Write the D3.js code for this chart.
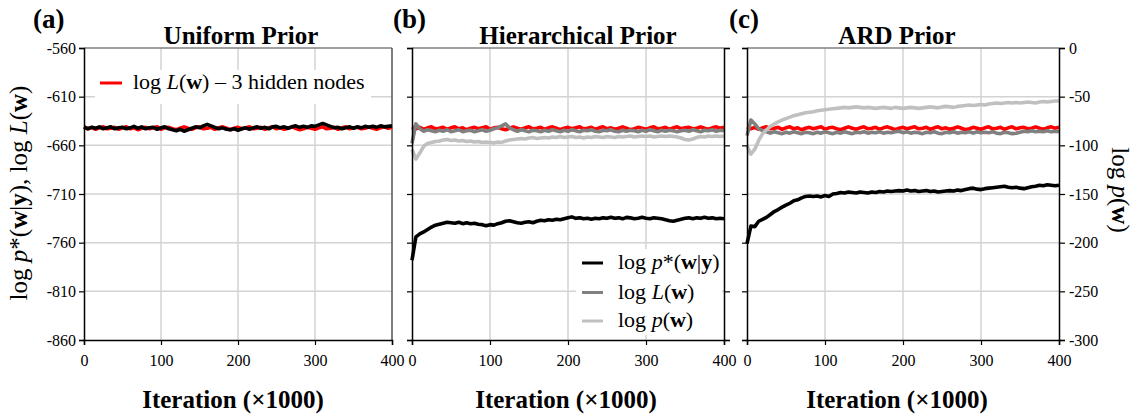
<!DOCTYPE html>
<html><head><meta charset="utf-8">
<script src="https://cdn.jsdelivr.net/npm/d3@7"></script>
<style>
html,body{margin:0;padding:0;background:#fff;}
text{font-family:"Liberation Serif","Times New Roman",serif;}
</style></head>
<body>
<svg id="chart" width="1136" height="414"></svg>
<script>
// ---------------- DATA ----------------
const iterations = [0,5,10,15,20,25,30,35,40,45,50,55,60,65,70,75,80,85,90,95,100,105,110,115,120,125,130,135,140,145,150,155,160,165,170,175,180,185,190,195,200,205,210,215,220,225,230,235,240,245,250,255,260,265,270,275,280,285,290,295,300,305,310,315,320,325,330,335,340,345,350,355,360,365,370,375,380,385,390,395,400];
const xTicks = [0,100,200,300,400];
const leftTicks = [-560,-610,-660,-710,-760,-810,-860];
const rightTicks = [0,-50,-100,-150,-200,-250,-300];
const panelTitles = ["Uniform Prior","Hierarchical Prior","ARD Prior"];
const panelLetters = ["(a)","(b)","(c)"];

// log L(w) - 3 hidden nodes (reference, all panels)
const logL3 = [-641,-643,-641.5,-643.5,-642,-641,-643,-642.5,-641.5,-643.5,-642,-641,-643,-642,-644,-642.5,-641.5,-643,-642,-641,-643.5,-642,-641.5,-643,-644,-642.5,-641,-642.5,-643.5,-642,-641,-643,-642.5,-641.5,-643.5,-642,-641,-642.5,-644,-642.5,-641.5,-643,-642,-641,-643,-642.5,-641.5,-643.5,-642,-641,-643,-642,-643.5,-642.5,-641,-642.5,-644,-643,-641.5,-642.5,-643.5,-642,-641,-643,-642.5,-641.5,-643.5,-642,-641,-643,-642,-641.5,-643,-642.5,-641,-642.5,-643.5,-642,-641,-642.5,-641.5];
// (a) Uniform prior: log p*(w|y)
const uniformPost = [-641,-643,-641.5,-642.5,-641,-643,-642,-641,-643,-642,-641.5,-643,-642,-640.5,-642.5,-641,-643,-642,-641.5,-643.5,-642,-641,-643,-644,-645,-643.5,-645.5,-644,-642.5,-641,-642,-640,-638.5,-640,-641.5,-643,-642,-643.5,-644,-643,-644.5,-643,-642,-643.5,-642,-641,-642.5,-641.5,-643,-641,-640.5,-642,-641,-642.5,-641,-640,-641.5,-640.5,-641.5,-640,-640.5,-639,-637.5,-639,-640.5,-642,-641.5,-643,-642,-641,-642.5,-641,-642,-640.5,-641.5,-640.5,-641.5,-640,-641,-640.5,-640];
// (b) Hierarchical prior
const hierPost = [-778,-754,-751,-749,-746.5,-744,-742,-741,-740,-739,-739.5,-740,-739,-740.5,-739.5,-740.5,-740,-741,-741.5,-742.5,-741.5,-742,-740.5,-739.5,-738,-737.5,-738.5,-739.5,-740,-739,-738.5,-739.5,-738,-737,-737.5,-736.5,-737,-736,-736.5,-735.5,-734.5,-733.5,-735,-734.5,-735.5,-735,-736,-735,-735.5,-734.5,-735,-734,-735,-734.5,-735.5,-734,-734.5,-735.5,-735,-734,-735,-735.5,-734.5,-735,-735.5,-736.5,-737.5,-738,-737,-736,-735,-734.5,-735.5,-734.5,-735,-734,-735,-734.5,-735.5,-735,-735.5];
const hierLik = [-658,-638,-643,-645.5,-644,-645,-646,-644.5,-645.5,-644,-646,-645,-644,-646,-645,-644.5,-646,-645,-644,-645.5,-644.5,-643,-642,-640,-638,-642,-644,-645.5,-644,-645,-646,-644.5,-645,-646,-644.5,-645.5,-644,-645,-646,-644.5,-645.5,-644,-645,-646,-644.5,-645,-644,-645.5,-646,-644.5,-645,-644,-645.5,-646,-644.5,-645.5,-644.5,-645,-646,-644.5,-645.5,-644,-645,-646,-644.5,-645.5,-644.5,-645,-646,-645,-644.5,-645.5,-644,-645,-646,-644.5,-645,-644,-645.5,-644.5,-645];
const hierPrior = [-104,-114,-108,-101,-98,-97,-96,-95.5,-94.5,-94,-95,-94.5,-95.5,-95,-96,-95.5,-96.5,-96,-97,-96.5,-97,-97.5,-96.5,-97,-95.5,-94.5,-94,-93.5,-93,-93.5,-92.5,-92,-93,-92.5,-92,-92.5,-91.5,-92,-91,-92,-91.5,-91,-92,-91.5,-92.5,-91.5,-92,-91,-91.5,-92,-91,-91.5,-92,-91,-91.5,-91,-90.5,-91.5,-91,-90.5,-91,-90.5,-91.5,-91,-90.5,-91,-90.5,-91,-91.5,-92.5,-94,-94.5,-93.5,-92,-91,-91.5,-90.5,-91,-90.5,-91,-90.5];
// (c) ARD prior
const ardPost = [-761,-743,-743.5,-738,-736,-734,-731,-728,-726,-723.5,-721.5,-719.5,-717,-716,-714,-712.5,-712,-712.5,-712,-713,-711.5,-712.5,-710,-709.5,-708.5,-709,-708,-708.5,-709,-708,-708.5,-709,-708,-708.5,-707.5,-708,-707,-707.5,-707,-706.5,-707,-706,-707,-706.5,-707.5,-707,-706.5,-707.5,-707,-708,-707.5,-707,-706.5,-707,-706,-706.5,-705.5,-704.5,-704,-705,-705.5,-704.5,-704,-703.5,-703,-702.5,-702,-703,-703.5,-703,-704,-704.5,-703.5,-702.5,-702,-701,-701.5,-700.5,-701,-701.5,-701];
const ardLik = [-650,-634,-638,-643,-645,-646,-647.5,-646,-647,-648,-646.5,-647.5,-646,-647,-648,-646.5,-647,-648,-646.5,-647.5,-646,-647,-648,-646.5,-647.5,-646,-647,-648,-646.5,-647,-646,-647.5,-646.5,-647,-646,-647.5,-646.5,-647,-646,-645.5,-647,-646,-647.5,-646.5,-647,-648,-646.5,-647,-646,-647.5,-648,-646.5,-647,-646,-647.5,-646.5,-647,-646,-647.5,-646,-647,-646.5,-647,-646,-647.5,-648,-646.5,-647,-648,-647.5,-646.5,-645.5,-646,-645,-646,-645.5,-646,-645,-646,-645.5,-646];
const ardPrior = [-101,-109,-104,-95,-88,-84,-80.5,-78,-76,-74,-72.5,-71,-69.5,-68.5,-67.5,-66.5,-66,-65.5,-64.5,-64,-63.5,-63,-62.5,-62,-61.5,-61,-61.5,-61,-60.5,-61,-61.5,-61,-61.5,-62,-61.5,-61,-61.5,-62,-61,-61.5,-62,-61.5,-61,-61.5,-62,-61.5,-61,-60.5,-61,-61.5,-60.5,-60,-60.5,-61,-60,-59.5,-59,-58.5,-59,-58.5,-58,-58.5,-57.5,-57,-56.5,-57,-56.5,-56,-56.5,-56,-56.5,-56,-55.5,-56,-56.5,-55.5,-55,-55.5,-55,-54.5,-54.5];

// ---------------- LAYOUT ----------------
const svg = d3.select("#chart");
const plotTop = 48, plotBottom = 340;
const panels = [
  {x0:84,  x1:392, titleX:241, xlabX:233, letterX:33},
  {x0:412, x1:724, titleX:578, xlabX:566, letterX:393},
  {x0:747, x1:1059, titleX:897, xlabX:897, letterX:729}
];
const COL = {red:"#ff0000", black:"#000000", gray:"#808080", light:"#c0c0c0", grid:"#d3d3d3"};
const yL = d3.scaleLinear().domain([-860,-560]).range([plotBottom, plotTop]);
const yR = d3.scaleLinear().domain([-300,0]).range([plotBottom, plotTop]);

const seriesByPanel = [
  [{v:logL3, c:COL.red, s:yL}, {v:uniformPost, c:COL.black, s:yL}],
  [{v:logL3, c:COL.red, s:yL}, {v:hierPost, c:COL.black, s:yL}, {v:hierLik, c:COL.gray, s:yL}, {v:hierPrior, c:COL.light, s:yR}],
  [{v:logL3, c:COL.red, s:yL}, {v:ardPost, c:COL.black, s:yL}, {v:ardLik, c:COL.gray, s:yL}, {v:ardPrior, c:COL.light, s:yR}]
];

panels.forEach((p, i) => {
  const x = d3.scaleLinear().domain([0,400]).range([p.x0, p.x1]);
  const g = svg.append("g");
  g.selectAll(".gv").data(xTicks.slice(1,-1)).join("line")
    .attr("x1", d=>x(d)).attr("x2", d=>x(d)).attr("y1", plotTop).attr("y2", plotBottom)
    .attr("stroke", COL.grid).attr("stroke-width", 1.5);
  g.selectAll(".gh").data(leftTicks.slice(1,-1)).join("line")
    .attr("x1", p.x0).attr("x2", p.x1).attr("y1", d=>yL(d)).attr("y2", d=>yL(d))
    .attr("stroke", COL.grid).attr("stroke-width", 1.5);
  g.append("line").attr("x1", p.x0).attr("x2", p.x1).attr("y1", plotTop).attr("y2", plotTop)
    .attr("stroke", COL.gray).attr("stroke-width", 1.5);
  if (i === 0) {
    g.append("line").attr("x1", p.x1).attr("x2", p.x1).attr("y1", plotTop).attr("y2", plotBottom)
      .attr("stroke", "#555").attr("stroke-width", 1.5);
  }
  if (i === 0) {
    g.append("rect").attr("x", 95).attr("y", 70).attr("width", 276).attr("height", 34).attr("fill", "#fff");
  }
  if (i === 1) {
    g.append("rect").attr("x", 576).attr("y", 249).attr("width", 146).attr("height", 86).attr("fill", "#fff");
  }
  seriesByPanel[i].forEach(s => {
    const line = d3.line().x((d,k)=>x(iterations[k])).y(d=>s.s(d));
    g.append("path").datum(s.v).attr("d", line).attr("fill","none")
      .attr("stroke", s.c).attr("stroke-width", 3.6).attr("stroke-linejoin","round");
  });
  const fmt = d => String(d);
  const xa = g.append("g").attr("transform", `translate(0,${plotBottom})`)
    .call(d3.axisBottom(x).tickValues(xTicks).tickSize(5).tickPadding(10).tickFormat(fmt));
  const la = g.append("g").attr("transform", `translate(${p.x0},0)`)
    .call(d3.axisLeft(yL).tickValues(leftTicks).tickSize(5).tickPadding(3).tickFormat(i===0?fmt:()=>""));
  [xa, la].forEach(a => {
    a.select(".domain").attr("stroke","#000").attr("stroke-width",1.5);
    a.selectAll(".tick line").attr("stroke","#000").attr("stroke-width",1.2);
    a.selectAll("text").attr("font-family","Liberation Serif").attr("font-size",16).attr("fill","#000");
  });
  if (i > 0) {
    const ra = g.append("g").attr("transform", `translate(${p.x1},0)`)
      .call(d3.axisRight(yR).tickValues(rightTicks).tickSize(6).tickPadding(4).tickFormat(i===2?fmt:()=>""));
    ra.select(".domain").attr("stroke","#000").attr("stroke-width",1.5);
    ra.selectAll(".tick line").attr("stroke","#000").attr("stroke-width",1.2);
    ra.selectAll("text").attr("font-family","Liberation Serif").attr("font-size",16).attr("fill","#000");
  }
  svg.append("text").attr("x", p.titleX).attr("y", 44).attr("text-anchor","middle")
    .attr("font-size", 25).attr("font-weight","bold").text(panelTitles[i]);
  svg.append("text").attr("x", p.letterX).attr("y", 28)
    .attr("font-size", 27).attr("font-weight","bold").text(panelLetters[i]);
  svg.append("text").attr("x", p.xlabX).attr("y", 408).attr("text-anchor","middle")
    .attr("font-size", 25).attr("font-weight","bold").text("Iteration (\u00d71000)");
});

function rich(sel, parts) {
  parts.forEach(pt => {
    const t = sel.append("tspan").text(pt[0]);
    if (pt[1] === "i") t.attr("font-style","italic");
    if (pt[1] === "b") t.attr("font-weight","bold");
  });
}

const lt = svg.append("text").attr("transform","translate(27,193) rotate(-90)")
  .attr("text-anchor","middle").attr("font-size", 25);
rich(lt, [["log "],["p","i"],["*("],["w","b"],["|"],["y","b"],["), log "],["L","i"],["("],["w","b"],[")"]]);
const rt = svg.append("text").attr("transform","translate(1112,190) rotate(90)")
  .attr("text-anchor","middle").attr("font-size", 25);
rich(rt, [["log "],["p","i"],["("],["w","b"],[")"]]);

svg.append("line").attr("x1",100).attr("x2",122).attr("y1",83).attr("y2",83)
  .attr("stroke",COL.red).attr("stroke-width",3);
const la1 = svg.append("text").attr("x",133).attr("y",89).attr("font-size",22);
rich(la1, [["log "],["L","i"],["("],["w","b"],[") \u2013 3 hidden nodes"]]);

const legB = [
  {c:COL.black, parts:[["log "],["p","i"],["*("],["w","b"],["|"],["y","b"],[")"]]},
  {c:COL.gray, parts:[["log "],["L","i"],["("],["w","b"],[")"]]},
  {c:COL.light, parts:[["log "],["p","i"],["("],["w","b"],[")"]]}
];
const legY = [263, 292.5, 321];
legB.forEach((e,k) => {
  svg.append("line").attr("x1",582).attr("x2",603).attr("y1",legY[k]).attr("y2",legY[k])
    .attr("stroke",e.c).attr("stroke-width",3);
  const t = svg.append("text").attr("x",618).attr("y",legY[k]+6).attr("font-size",22);
  rich(t, e.parts);
});
</script>
</body></html>
